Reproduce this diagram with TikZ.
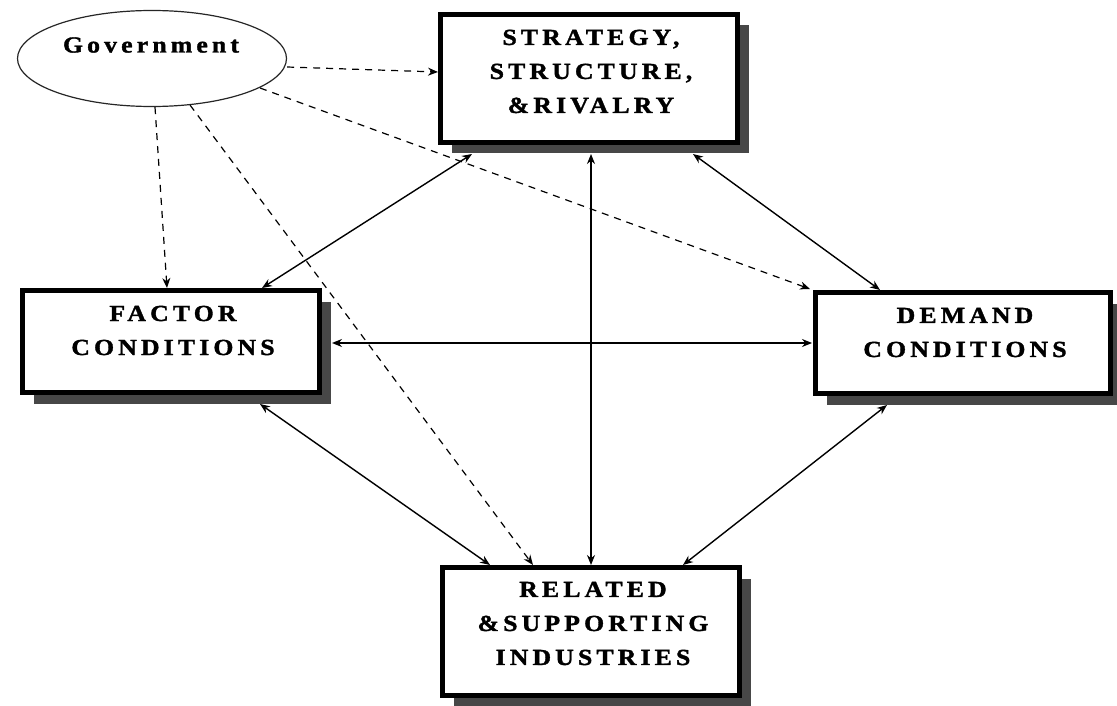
\documentclass[tikz,border=0pt]{standalone}
\usepackage{fontspec}
\setmainfont{Liberation Serif}
\newfontfamily\lblfont[LetterSpace=18, FakeStretch=1.12, BoldFeatures={FakeBold=1.5}]{Liberation Serif}
\usetikzlibrary{arrows.meta,calc,shadows,shapes.geometric}
\tikzset{
  box/.style={draw=black, line width=5pt, fill=white, rectangle, inner sep=0pt,
    drop shadow={shadow xshift=11pt, shadow yshift=-11pt, fill=black!72, opacity=1}},
  lbl/.style={align=center, font=\lblfont\bfseries\fontsize{23}{34}\selectfont, inner sep=0pt},
  govshape/.style={ellipse, draw=black!85, line width=1.2pt, fill=white, inner sep=0pt},
  link/.style={line width=1.4pt, {Stealth[length=10pt,width=8pt]}-{Stealth[length=10pt,width=8pt]}},
  gvlink/.style={line width=1.2pt, dash pattern=on 7pt off 6pt, -{Stealth[length=10pt,width=8pt]}},
}
\begin{document}
\begin{tikzpicture}[x=1pt,y=-1pt]
\useasboundingbox[fill=white] (0,0) rectangle (1117,706);
% boxes
\node[box, minimum width=297pt, minimum height=128pt] (strat) at (589,78.5) {};
\node[box, minimum width=297pt, minimum height=102pt] (factor) at (171,341.5) {};
\node[box, minimum width=295pt, minimum height=101pt] (demand) at (963,343) {};
\node[box, minimum width=297pt, minimum height=128pt] (related) at (591,631.5) {};
\node[govshape, minimum width=269pt, minimum height=96pt] (gov) at (152,58.5) {};
% labels
\node[lbl] (stratT) at ($(strat.center)+(2,-7)$) {STRATEGY,\\STRUCTURE,\\\&RIVALRY};
\node[lbl] (factorT) at ($(factor.center)+(2,-11)$) {FACTOR\\CONDITIONS};
\node[lbl] (demandT) at ($(demand.center)+(2,-10.5)$) {DEMAND\\CONDITIONS};
\node[lbl] (relatedT) at ($(related.center)+(2,-8)$) {RELATED\\\&SUPPORTING\\INDUSTRIES};
\node[lbl] (govT) at ($(gov.center)+(-1,-13.5)$) {Government};
% government influences
\draw[gvlink] ($(gov.east)+(0,8.5)$) -- ($(strat.west)+(0,-6.5)$);
\draw[gvlink] ($(gov.south)+(3,0)$) -- ($(factor.north)+(-4,0)$);
\draw[gvlink] ($(gov.center)+(38,46.5)$) -- ($(related.north)+(-58,0)$);
\draw[gvlink] ($(gov.center)+(108,29.5)$) -- ($(demand.north west)+(-3,-1)$);
% diamond links
\draw[link] ($(strat.south west)+(34,9)$) -- ($(factor.north)+(91,0)$);
\draw[link] ($(strat.south)+(2,9)$) -- (related.north);
\draw[link] ($(strat.south east)+(-47,9)$) -- ($(demand.north)+(-83,0)$);
\draw[link] ($(factor.east)+(10,1.5)$) -- ($(demand.west)+(-1,0)$);
\draw[link] ($(factor.south)+(89,9)$) -- ($(related.north)+(-101,0)$);
\draw[link] ($(demand.south)+(-76,9)$) -- ($(related.north)+(92,0)$);
\end{tikzpicture}
\end{document}
